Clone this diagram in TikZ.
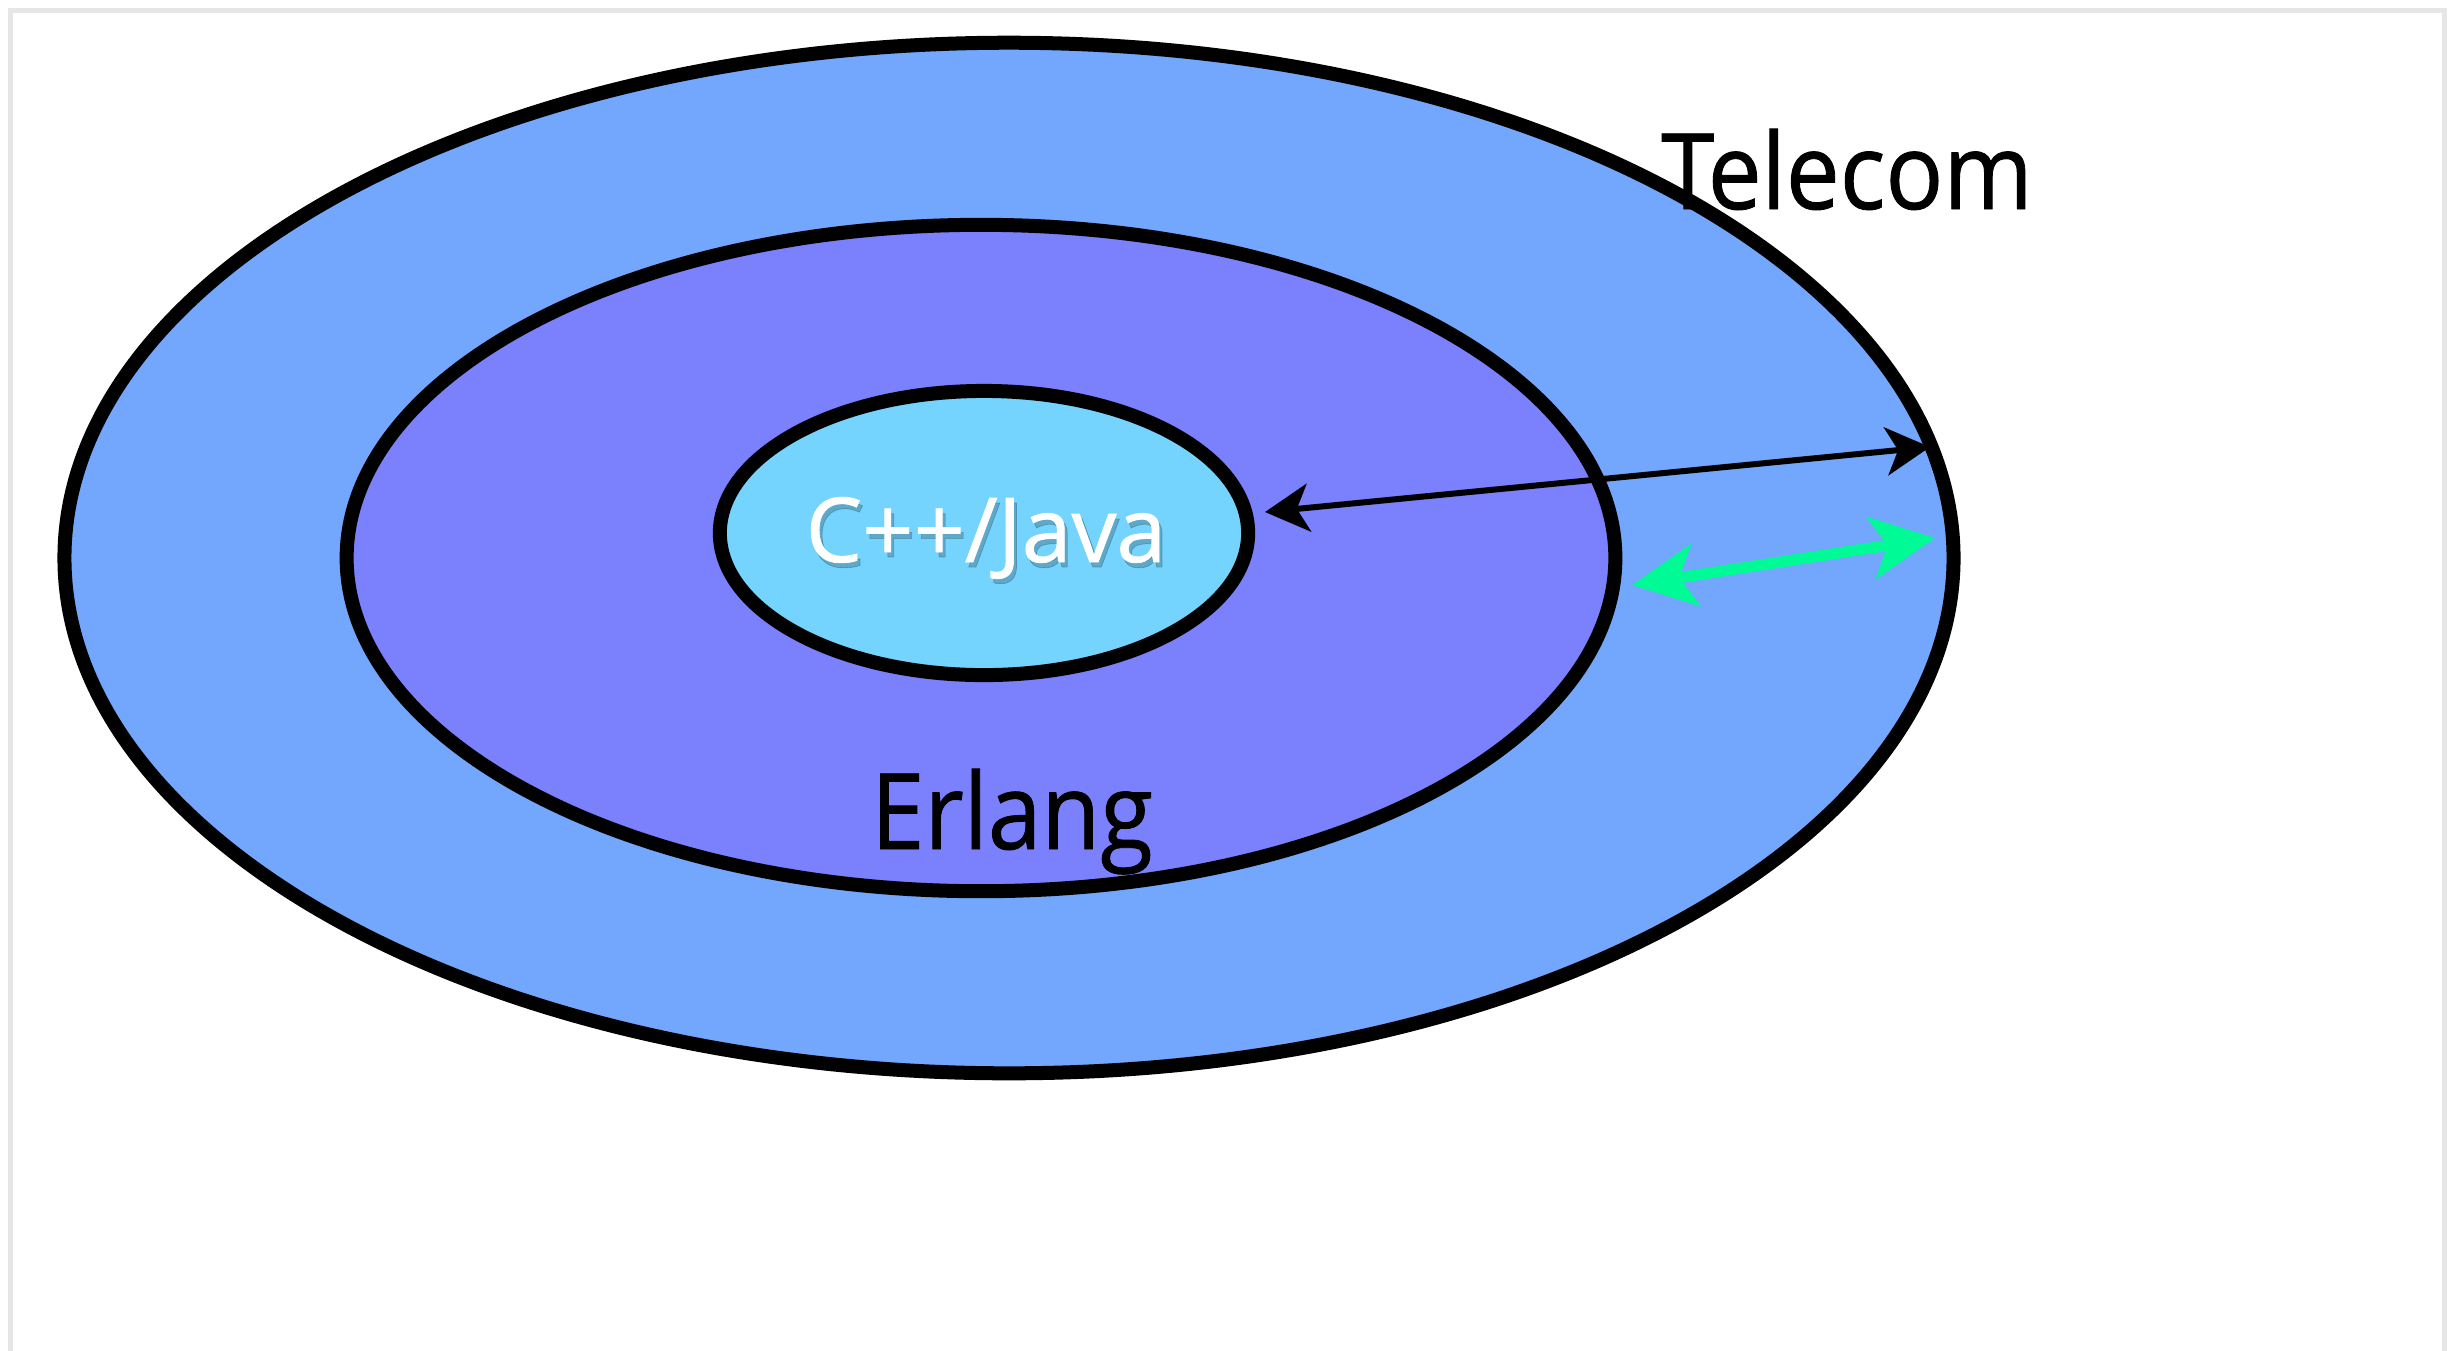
\documentclass[tikz,border=0pt]{standalone}
\usepackage{fontspec}
\setmainfont{Open Sans}
\newfontfamily\narrowfont[FakeStretch=0.91,FakeBold=0.8]{Open Sans}
\newfontfamily\boldishfont[FakeBold=0.8]{Open Sans}
\usetikzlibrary{shapes.geometric,arrows.meta}
\definecolor{telecomblue}{RGB}{114,167,253}
\definecolor{erlangblue}{RGB}{123,128,253}
\definecolor{cppblue}{RGB}{117,212,253}
\definecolor{arrowgreen}{RGB}{0,250,150}
\definecolor{framegray}{RGB}{230,230,230}
\tikzset{
  ring/.style={ellipse, draw=black, line width=0.14cm, inner sep=0pt},
  lbl/.style={inner sep=0pt, anchor=base, font=\narrowfont\fontsize{30}{36}\selectfont},
  smalllbl/.style={inner sep=0pt, anchor=base, font=\boldishfont\fontsize{25.5}{30}\selectfont},
  blackarrow/.style={line width=0.06cm, {Stealth[length=0.44cm,width=0.48cm,inset=0.12cm]}-{Stealth[length=0.44cm,width=0.48cm,inset=0.12cm]}},
  greenarrow/.style={draw=arrowgreen, line width=0.11cm, {Stealth[length=0.64cm,width=0.62cm,inset=0.16cm]}-{Stealth[length=0.64cm,width=0.62cm,inset=0.16cm]}}
}
\begin{document}
\begin{tikzpicture}[x=0.01cm,y=-0.01cm]
\useasboundingbox (0,0) rectangle (2460,1350);
\draw[framegray, line width=0.05cm] (10.5,1360) -- (10.5,10.5) -- (2444.5,10.5) -- (2444.5,1360);
\node[ring, fill=telecomblue, minimum width=18.88cm, minimum height=10.30cm] (telecom) at (1009,558) {};
\node[ring, fill=erlangblue, minimum width=12.68cm, minimum height=6.66cm] (erlang) at (981,558) {};
\node[ring, fill=cppblue, minimum width=5.28cm, minimum height=2.84cm] (cpp) at (984,533) {};
\coordinate (b1) at (1265,512);
\coordinate (b2) at (1930,447);
\coordinate (g1) at (1632,585);
\coordinate (g2) at (1935,538);
\draw[blackarrow] (b1) -- (b2);
\draw[greenarrow] (g1) -- (g2);
\node[lbl] (telecomlabel) at (1847,209) {Telecom};
\node[lbl] (erlanglabel) at (1012,849) {Erlang};
\node[smalllbl, text=black, opacity=0.2] (cppshadow) at (989,567) {C++/Java};
\node[smalllbl, text=white] (cpplabel) at (986,562) {C++/Java};
\end{tikzpicture}
\end{document}
